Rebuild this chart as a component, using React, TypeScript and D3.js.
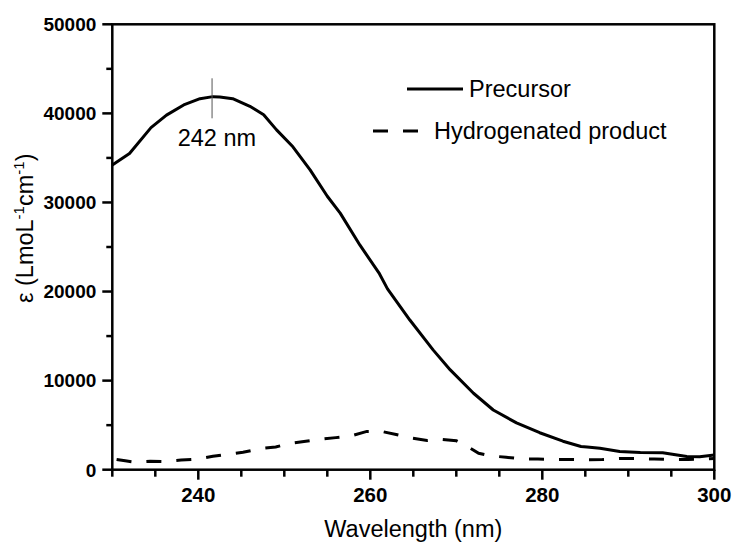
import React from "react";
import * as d3 from "d3";

const precursorWl = [230, 232, 234.5, 236.3, 238.3, 240.2, 241.7, 242.5, 244, 246, 247.6, 249.1, 251, 253, 255, 256.5, 258.8, 261, 262, 264.6, 267.3, 269.3, 272, 274.3, 277, 279.7, 282.4, 284.5, 285.2, 286.7, 289, 291.4, 294, 296.8, 298.3, 300];
const precursorEps = [34200, 35500, 38400, 39800, 40950, 41650, 41880, 41850, 41650, 40800, 39850, 38150, 36250, 33650, 30700, 28800, 25200, 22100, 20300, 16800, 13450, 11200, 8580, 6700, 5250, 4150, 3200, 2600, 2550, 2400, 2050, 1920, 1900, 1470, 1460, 1650];

const hydroWl = [230.5, 231.5, 232.6, 234.4, 236.1, 238.0, 239.8, 241.7, 243.4, 245.2, 247.1, 249.0, 250.7, 252.5, 254.0, 256.0, 257.7, 259.6, 261.3, 263.0, 264.8, 266.6, 268.3, 270.0, 271.3, 272.6, 274.0, 275.8, 277.7, 279.5, 281.4, 283.2, 285.0, 287.0, 289.0, 291.0, 293.0, 295.0, 297.0, 299.0, 300.0];
const hydroEps = [1150, 1000, 850, 950, 920, 1080, 1170, 1500, 1730, 1950, 2350, 2550, 2960, 3200, 3400, 3600, 3780, 4300, 4300, 3950, 3550, 3280, 3400, 3250, 2600, 1850, 1550, 1400, 1200, 1200, 1150, 1150, 1100, 1150, 1250, 1250, 1200, 1150, 1150, 1200, 1250];

const xMajorTicks = [240, 260, 280, 300];
const xMinorTicks = [230, 235, 245, 250, 255, 265, 270, 275, 285, 290, 295];
const yMajorTicks = [0, 10000, 20000, 30000, 40000, 50000];
const yMinorTicks = [5000, 15000, 25000, 35000, 45000];

const seriesNames = ["Precursor", "Hydrogenated product"];
const peakWl = 241.6;
const peakLabel = "242 nm";

const W = 735;
const H = 542;
const L = 112.3, R = 714.3, T = 24.3, B = 469.7;
const FONT = "'Liberation Sans', Arial, Helvetica, sans-serif";

export default function App() {
  const x = d3.scaleLinear().domain([230, 300]).range([L, R]);
  const y = d3.scaleLinear().domain([0, 50000]).range([B, T]);
  const line = d3
    .line<[number, number]>()
    .x((d) => x(d[0]))
    .y((d) => y(d[1]))
    .curve(d3.curveLinear);
  const pData: [number, number][] = precursorWl.map((w, i) => [w, precursorEps[i]]);
  const hData: [number, number][] = hydroWl.map((w, i) => [w, hydroEps[i]]);

  return (
    <svg
      width={W}
      height={H}
      style={{ position: "absolute", left: 0, top: 0, background: "#fff" }}
      fontFamily={FONT}
    >
      <rect x={0} y={0} width={W} height={H} fill="#fff" />
      {/* curves */}
      <path d={line(pData) || ""} fill="none" stroke="#000" strokeWidth={3} strokeLinejoin="round" />
      <path d={line(hData) || ""} fill="none" stroke="#000" strokeWidth={3} strokeDasharray="15 15" />

      {/* frame */}
      <rect x={L} y={T} width={R - L} height={B - T} fill="none" stroke="#000" strokeWidth={2.5} />

      {/* y ticks */}
      {yMajorTicks.map((t) => (
        <g key={"ym" + t}>
          <line x1={L - 10} x2={L} y1={y(t)} y2={y(t)} stroke="#000" strokeWidth={2.5} />
          <text x={L - 16} y={y(t)} dy="0.36em" textAnchor="end" fontSize={19} fontWeight="bold">
            {t}
          </text>
        </g>
      ))}
      {yMinorTicks.map((t) => (
        <line key={"yn" + t} x1={L - 6} x2={L} y1={y(t)} y2={y(t)} stroke="#000" strokeWidth={2.5} />
      ))}

      {/* x ticks */}
      {xMajorTicks.map((t) => (
        <g key={"xm" + t}>
          <line x1={x(t)} x2={x(t)} y1={B} y2={B + 10} stroke="#000" strokeWidth={2.5} />
          <text x={x(t)} y={502.3} textAnchor="middle" fontSize={20.5} fontWeight="bold">
            {t}
          </text>
        </g>
      ))}
      {xMinorTicks.map((t) => (
        <line key={"xn" + t} x1={x(t)} x2={x(t)} y1={B} y2={B + 7} stroke="#000" strokeWidth={2.5} />
      ))}

      {/* axis titles */}
      <text x={(L + R) / 2} y={537} textAnchor="middle" fontSize={23.5}>
        Wavelength (nm)
      </text>
      <text x={33} y={303} transform="rotate(-90, 33, 303)" textAnchor="start" fontSize={23.5}>
        <tspan>ε (LmoL</tspan>
        <tspan fontSize={15} dy={-9}>-1</tspan>
        <tspan dy={9}>cm</tspan>
        <tspan fontSize={15} dy={-9}>-1</tspan>
        <tspan dy={9}>)</tspan>
      </text>

      {/* peak marker */}
      <line x1={x(peakWl)} x2={x(peakWl)} y1={78.3} y2={118.3} stroke="#555" strokeWidth={1} />
      <text x={x(peakWl) + 4.8} y={146} textAnchor="middle" fontSize={23.5}>
        {peakLabel}
      </text>

      {/* legend */}
      <line x1={407} x2={463} y1={89} y2={89} stroke="#000" strokeWidth={3} />
      <text x={469} y={96.7} fontSize={23.5}>
        {seriesNames[0]}
      </text>
      <line x1={373} x2={420} y1={131} y2={131} stroke="#000" strokeWidth={3} strokeDasharray="15 15" />
      <text x={434} y={139} fontSize={23.5}>
        {seriesNames[1]}
      </text>
    </svg>
  );
}
